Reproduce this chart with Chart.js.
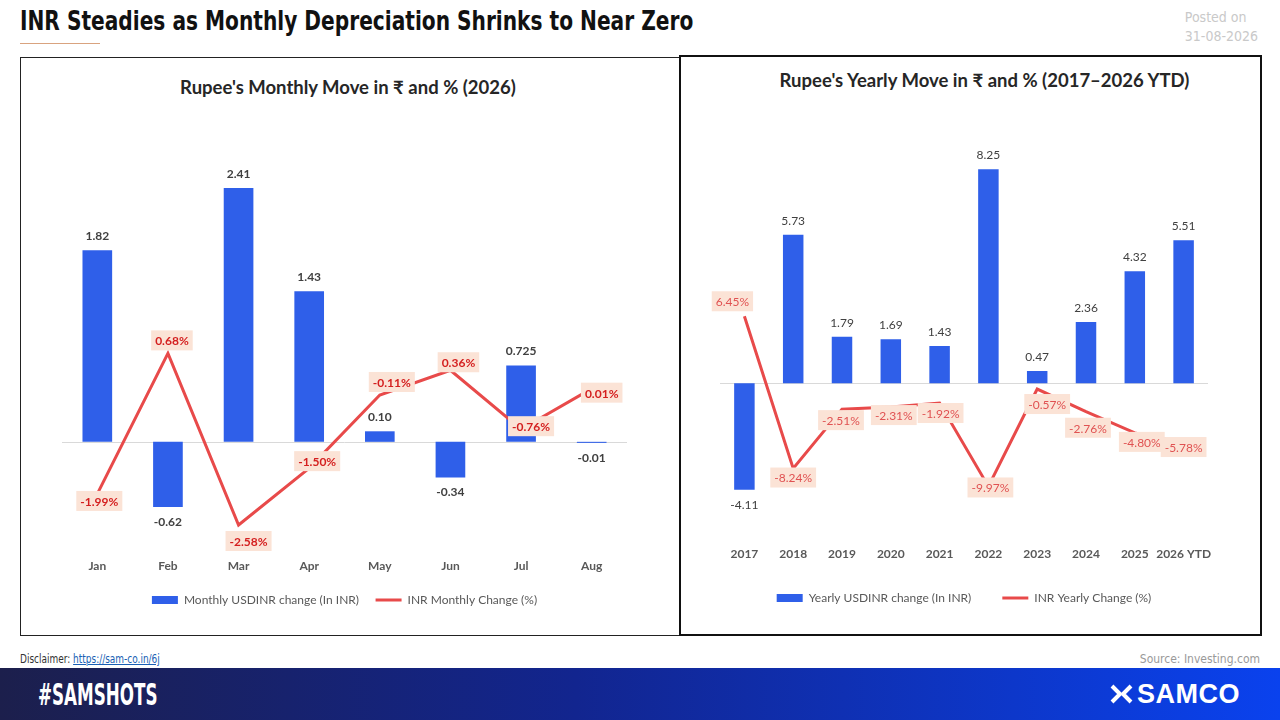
<!DOCTYPE html>
<html>
<head>
<meta charset="utf-8">
<script src="https://cdn.jsdelivr.net/npm/chart.js@4.4.1/dist/chart.umd.min.js"></script>
<style>
  body { margin: 0; width: 1280px; height: 720px; position: relative; background: #fff; overflow: hidden; font-family: Lato, "Noto Sans", sans-serif; }
  .narrow { font-family: "Liberation Sans Narrow", "DejaVu Sans Condensed", "Roboto Condensed", sans-serif; font-stretch: condensed; transform-origin: left center; white-space: nowrap; }
  #headline { position: absolute; left: 20px; top: 5px; font-size: 27px; font-weight: bold; color: #111; transform: scaleX(0.83); }
  #rule { position: absolute; left: 20px; top: 43px; width: 80px; height: 1px; background: #d9a37f; }
  #posted { position: absolute; right: 22px; top: 8px; text-align: left; font-size: 14px; line-height: 19px; color: #c9c9c9; }
  .box { position: absolute; box-sizing: border-box; background: #fff; }
  #boxL { left: 20px; top: 57px; width: 660px; height: 579px; border: 1px solid #222; }
  #boxR { left: 679px; top: 55px; width: 583px; height: 581px; border: 2px solid #111; }
  .ctitle { position: absolute; left: 0; right: 0; text-align: center; font-weight: bold; font-size: 18.5px; color: #262626; }
  .box canvas { position: absolute; left: 0; top: 0; }
  #disc { position: absolute; left: 20px; top: 652px; font-size: 12px; color: #333; transform: scaleX(0.83); }
  #disc a { color: #1a5fb4; }
  #source { position: absolute; right: 20px; top: 652px; font-size: 12px; color: #9a9a9a; }
  #footer { position: absolute; left: 0; top: 668px; width: 1280px; height: 52px; background: linear-gradient(90deg, #1c1f4c 0%, #12258f 45%, #0a42ee 100%); }
  #tag { position: absolute; left: 38px; top: 9px; font-size: 30px; font-weight: bold; color: #fff; transform: scaleX(0.62); }
  #logo { position: absolute; left: 1110px; top: 12px; height: 28px; display: flex; align-items: center; color: #fff; font-family: "Liberation Sans", Arial, sans-serif; font-weight: bold; font-size: 27px; letter-spacing: 0.5px; }
</style>
</head>
<body>

<div id="headline" class="narrow">INR Steadies as Monthly Depreciation Shrinks to Near Zero</div>
<div id="rule"></div>
<div id="posted" class="narrow">Posted on<br>31-08-2026</div>

<div id="boxL" class="box">
  <div class="ctitle" style="top:18px;left:-4px">Rupee's Monthly Move in ₹ and % (2026)</div>
  <canvas id="monthly" width="658" height="577"></canvas>
</div>

<div id="boxR" class="box">
  <div class="ctitle" style="top:12px;left:28px">Rupee's Yearly Move in ₹ and % (2017–2026 YTD)</div>
  <canvas id="yearly" width="579" height="577"></canvas>
</div>

<div id="disc" class="narrow">Disclaimer: <a href="#">https://sam-co.in/6j</a></div>
<div id="source" class="narrow">Source: Investing.com</div>

<div id="footer">
  <div id="tag" class="narrow">#SAMSHOTS</div>
  <div id="logo">
    <svg width="24" height="22" viewBox="0 0 24 22"><path d="M2 3 L10 11 L2 19" stroke="#fff" stroke-width="4" fill="none"/><path d="M21 3 L13 11 L21 19" stroke="#fff" stroke-width="4" fill="none"/></svg>
    <span style="margin-left:3px">SAMCO</span>
  </div>
</div>

<script>
// monthly 2026
var months = ['Jan', 'Feb', 'Mar', 'Apr', 'May', 'Jun', 'Jul', 'Aug'];
var monthlyInr = [1.82, -0.62, 2.41, 1.43, 0.10, -0.34, 0.725, -0.01];
var monthlyInrText = ['1.82', '-0.62', '2.41', '1.43', '0.10', '-0.34', '0.725', '-0.01'];
var monthlyPct = [-1.99, 0.68, -2.58, -1.50, -0.11, 0.36, -0.76, 0.01];

// yearly 2017 - 2026 YTD
var years = ['2017', '2018', '2019', '2020', '2021', '2022', '2023', '2024', '2025', '2026 YTD'];
var yearlyInr = [-4.11, 5.73, 1.79, 1.69, 1.43, 8.25, 0.47, 2.36, 4.32, 5.51];
var yearlyPct = [6.45, -8.24, -2.51, -2.31, -1.92, -9.97, -0.57, -2.76, -4.80, -5.78];

var BLUE = '#2f5fe9';
var RED = '#e84a4a';

// thin zero line behind the bars
var zeroLine = {
  id: 'zeroLine',
  beforeDatasetsDraw: function (chart) {
    var y = chart.scales.y.getPixelForValue(0);
    var a = chart.chartArea;
    var ctx = chart.ctx;
    ctx.save();
    ctx.strokeStyle = '#d9d9d9';
    ctx.lineWidth = 1;
    ctx.beginPath();
    ctx.moveTo(a.left, Math.round(y) + 0.5);
    ctx.lineTo(a.right, Math.round(y) + 0.5);
    ctx.stroke();
    ctx.restore();
  }
};

// value labels for bars and boxed labels for the line
var valueLabels = {
  id: 'valueLabels',
  afterDatasetsDraw: function (chart, args, opts) {
    var ctx = chart.ctx;
    ctx.save();
    ctx.textAlign = 'center';
    ctx.textBaseline = 'middle';

    var bars = chart.getDatasetMeta(0).data;
    var barData = chart.data.datasets[0].data;
    ctx.font = opts.barFont;
    ctx.fillStyle = '#404040';
    bars.forEach(function (b, i) {
      var v = barData[i];
      var txt = opts.barText ? opts.barText[i] : v.toFixed(2);
      var y = v >= 0 ? b.y - 14 : b.y + 15;
      ctx.fillText(txt, b.x, y);
    });

    var pts = chart.getDatasetMeta(1).data;
    var lineData = chart.data.datasets[1].data;
    ctx.font = opts.lineFont;
    pts.forEach(function (p, i) {
      var txt = lineData[i].toFixed(2) + '%';
      var off = opts.offsets[i];
      var cx = p.x + off[0], cy = p.y + off[1];
      var w = ctx.measureText(txt).width + 8;
      ctx.fillStyle = '#fbe3d6';
      ctx.fillRect(cx - w / 2, cy - 10, w, 20);
      ctx.fillStyle = opts.lineColor;
      ctx.fillText(txt, cx, cy + 1);
    });
    ctx.restore();
  }
};

function makeChart(id, labels, bars, line, barName, lineName, ranges, pad, tickPad, legendPad, labelOpts) {
  return new Chart(document.getElementById(id), {
    type: 'bar',
    data: {
      labels: labels,
      datasets: [
        {
          label: barName,
          data: bars,
          backgroundColor: BLUE,
          borderWidth: 0,
          barPercentage: 0.84,
          categoryPercentage: 0.5,
          yAxisID: 'y',
          order: 1,
          pointStyle: 'rect'
        },
        {
          type: 'line',
          label: lineName,
          data: line,
          borderColor: RED,
          backgroundColor: RED,
          borderWidth: 3,
          pointRadius: 0,
          tension: 0,
          yAxisID: 'y1',
          order: 0,
          pointStyle: 'line'
        }
      ]
    },
    options: {
      responsive: false,
      animation: false,
      devicePixelRatio: 1,
      layout: { padding: pad },
      plugins: {
        title: { display: false },
        tooltip: { enabled: false },
        legend: {
          position: 'bottom',
          labels: {
            usePointStyle: true,
            pointStyleWidth: 26,
            boxHeight: 8,
            padding: legendPad,
            color: '#595959',
            font: { family: 'Lato, "Noto Sans", sans-serif', size: 12 },
            sort: function (a, b) { return a.datasetIndex - b.datasetIndex; }
          }
        },
        valueLabels: labelOpts
      },
      scales: {
        x: {
          grid: { display: false },
          border: { display: false },
          ticks: {
            color: '#595959', padding: tickPad, autoSkip: false, maxRotation: 0, minRotation: 0,
            font: { family: 'Lato, "Noto Sans", sans-serif', size: 12, weight: 'bold' }
          }
        },
        y: { display: false, min: ranges[0], max: ranges[1] },
        y1: { display: false, min: ranges[2], max: ranges[3] }
      }
    },
    plugins: [zeroLine, valueLabels]
  });
}

makeChart('monthly', months, monthlyInr, monthlyPct,
  'Monthly USDINR change (In INR)', 'INR Monthly Change (%)',
  [-1, 3, -3, 5],
  { left: 41, right: 52, top: 68, bottom: 19 }, 4, 16.5,
  {
    barFont: 'bold 12px Lato, "Noto Sans", sans-serif',
    barText: monthlyInrText,
    lineFont: 'bold 12px Lato, "Noto Sans", sans-serif',
    lineColor: '#d41f1f',
    offsets: [[2, 7], [4, -13], [10, 16], [8, -7], [12, -13], [8, -8], [10, -3], [10, 4]]
  });

makeChart('yearly', years, yearlyInr, yearlyPct,
  'Yearly USDINR change (In INR)', 'INR Yearly Change (%)',
  [-6, 10, -15, 25],
  { left: 39, right: 52, top: 67, bottom: 20 }, 0, 31,
  {
    barFont: '12px Lato, "Noto Sans", sans-serif',
    lineFont: '12px Lato, "Noto Sans", sans-serif',
    lineColor: '#e05252',
    offsets: [[-12, -15], [0, 9], [-1, 11], [3, 8], [1, 10], [2, 1], [10, 15], [2, 16], [7, 9], [0, 4]]
  });
</script>
</body>
</html>
